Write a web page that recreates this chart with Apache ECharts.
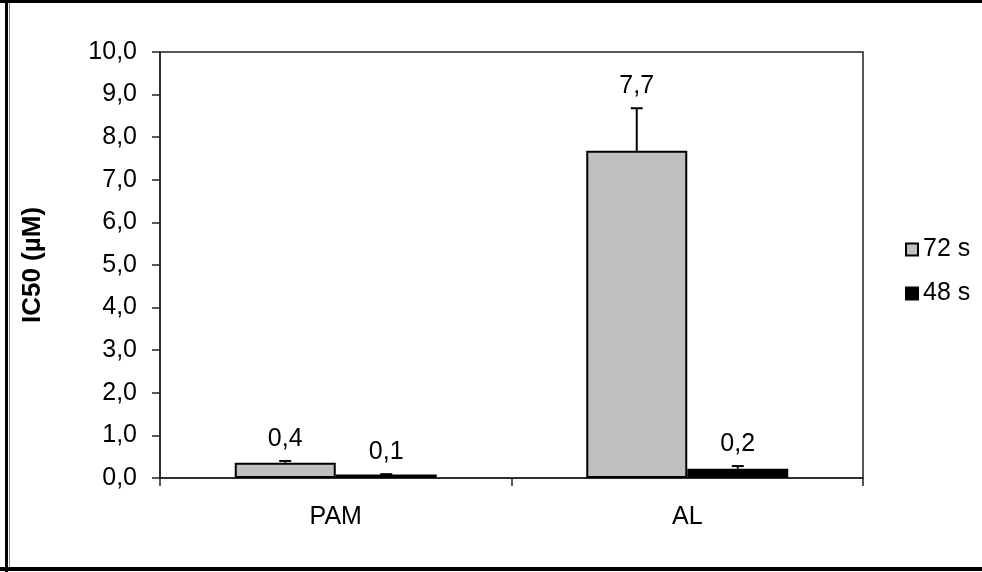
<!DOCTYPE html>
<html>
<head>
<meta charset="utf-8">
<script src="https://cdn.jsdelivr.net/npm/echarts@6/dist/echarts.min.js"></script>
<style>
  html, body { margin: 0; padding: 0; background: #fff; }
  #main { width: 982px; height: 572px; }
</style>
</head>
<body>
<div id="main"></div>
<script>
// categories and series
const categories = ['PAM', 'AL'];
const seriesNames = ['72 s', '48 s'];
const values72 = [0.36, 7.68];   // bar heights, 72 s
const errors72 = [0.04, 1.0];    // + error, 72 s
const labels72 = ['0,4', '7,7'];
const values48 = [0.08, 0.22];   // bar heights, 48 s
const errors48 = [0.01, 0.06];
const labels48 = ['0,1', '0,2'];
const yTicks = [0, 10, 1];       // min, max, interval

const FONT = '"Liberation Sans", Arial, sans-serif';
const FS = 25;
const BAR_W = 101;

var myChart = echarts.init(document.getElementById('main'));

// error bar + value label, drawn at the bar's centre
function errorSeries(name, values, errors, labels, side) {
  return {
    type: 'custom',
    name: name + ' err',
    z: 10,
    data: values.map((v, i) => [i, v, v + errors[i], labels[i]]),
    renderItem: function (params, api) {
      const base = api.coord([api.value(0), api.value(1)]);
      const top = api.coord([api.value(0), api.value(2)]);
      const x = base[0] + side * BAR_W / 2;
      return {
        type: 'group',
        children: [
          { type: 'line', shape: { x1: x, y1: base[1], x2: x, y2: top[1] },
            style: { stroke: '#000', lineWidth: 2 } },
          { type: 'line', shape: { x1: x - 6, y1: top[1], x2: x + 6, y2: top[1] },
            style: { stroke: '#000', lineWidth: 2 } },
          { type: 'text', x: x, y: top[1] - 22,
            style: { text: api.value(3), fill: '#000', font: FS + 'px ' + FONT,
                     align: 'center', verticalAlign: 'middle' } }
        ]
      };
    }
  };
}

const option = {
  animation: false,
  textStyle: { fontFamily: FONT },
  grid: {
    left: 160, right: 119, top: 52, bottom: 94,
    show: true, borderColor: '#222', borderWidth: 1.5, backgroundColor: '#fff'
  },
  legend: {
    orient: 'vertical',
    left: 900, top: 232,
    itemWidth: 12, itemHeight: 12, itemGap: 19,
    textStyle: { fontSize: FS, color: '#000', fontFamily: FONT, padding: [0, 0, 0, 0] },
    data: [
      { name: seriesNames[0], icon: 'rect', itemStyle: { color: '#c0c0c0', borderColor: '#000', borderWidth: 2 } },
      { name: seriesNames[1], icon: 'rect', itemStyle: { color: '#000', borderColor: '#000', borderWidth: 2 } }
    ]
  },
  xAxis: {
    type: 'category',
    data: categories,
    axisLine: { lineStyle: { color: '#222', width: 1.5 } },
    axisTick: { show: true, length: 8, lineStyle: { color: '#222', width: 1.5 } },
    axisLabel: { fontSize: FS, color: '#000', margin: 27 },
    splitLine: { show: false }
  },
  yAxis: {
    type: 'value',
    min: yTicks[0], max: yTicks[1], interval: yTicks[2],
    name: 'IC50 (µM)',
    nameLocation: 'middle',
    nameGap: 114,
    nameTextStyle: { fontSize: 26, fontWeight: 'bold', color: '#000' },
    axisLine: { show: true, lineStyle: { color: '#222', width: 1.5 } },
    axisTick: { show: true, length: 8, lineStyle: { color: '#222', width: 1.5 } },
    axisLabel: {
      fontSize: FS, color: '#000', margin: 23,
      formatter: v => v.toFixed(1).replace('.', ',')
    },
    splitLine: { show: false }
  },
  series: [
    {
      name: seriesNames[0], type: 'bar', data: values72,
      barWidth: BAR_W, barGap: '0%',
      itemStyle: { color: '#c0c0c0', borderColor: '#000', borderWidth: 2 }
    },
    {
      name: seriesNames[1], type: 'bar', data: values48,
      barWidth: BAR_W, barGap: '0%',
      itemStyle: { color: '#000', borderColor: '#000', borderWidth: 2 }
    },
    errorSeries(seriesNames[0], values72, errors72, labels72, -1),
    errorSeries(seriesNames[1], values48, errors48, labels48, 1)
  ],
  graphic: [
    // outer frame of the picture
    { type: 'rect', shape: { x: 0, y: 0, width: 982, height: 3 }, style: { fill: '#000' } },
    { type: 'rect', shape: { x: 5, y: 0, width: 3, height: 572 }, style: { fill: '#000' } },
    { type: 'rect', shape: { x: 9, y: 3, width: 1, height: 566 }, style: { fill: '#888' } },
    { type: 'rect', shape: { x: 0, y: 567, width: 982, height: 4 }, style: { fill: '#000' } }
  ]
};

myChart.setOption(option);
</script>
</body>
</html>
